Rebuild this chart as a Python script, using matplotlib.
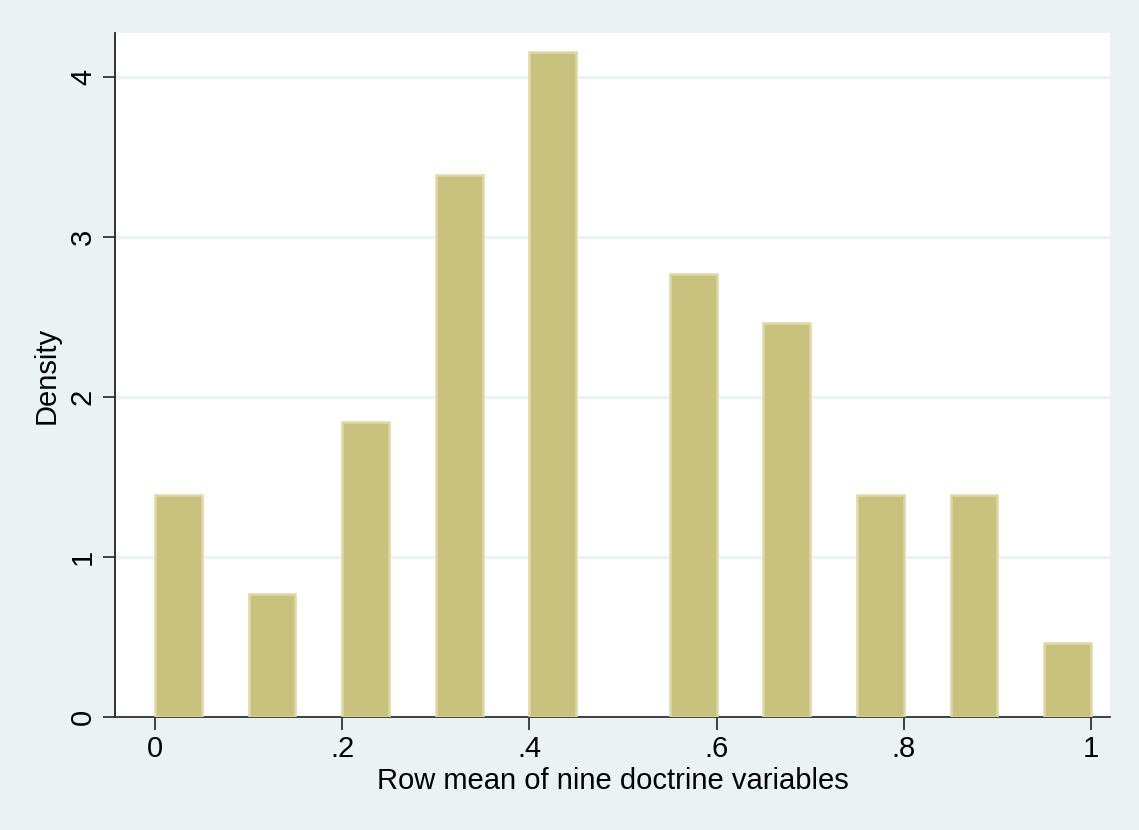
import matplotlib.pyplot as plt
import numpy as np

plt.rcParams['font.family'] = ['Liberation Sans', 'DejaVu Sans']

# histogram: bin width 0.05, left edges of non-empty bins
bin_left = [0.0, 0.1, 0.2, 0.3, 0.4, 0.55, 0.65, 0.75, 0.85, 0.95]
counts = [9, 5, 12, 22, 27, 18, 16, 9, 9, 3]
width = 0.05
n = sum(counts)
density = [c / (n * width) for c in counts]

xticks = [0, 0.2, 0.4, 0.6, 0.8, 1]
xticklabels = ['0', '.2', '.4', '.6', '.8', '1']
yticks = [0, 1, 2, 3, 4]

bg = '#eaf2f3'
fig = plt.figure(figsize=(11.39, 8.30), dpi=100, facecolor=bg)
ax = fig.add_axes([0.101, 0.1361, 0.8735, 0.8241])
ax.set_facecolor('white')

ax.bar(bin_left, density, width=width, align='edge', color='#c9c17e',
       edgecolor='#ddd8a6', linewidth=1.8, zorder=3)

ax.set_xlim(-0.0427, 1.0203)
ax.set_ylim(0, 4.275)
ax.set_xticks(xticks)
ax.set_xticklabels(xticklabels)
ax.set_yticks(yticks)
ax.set_yticklabels([str(t) for t in yticks], rotation=90, va='center')
ax.tick_params(axis='both', labelsize=21, length=9, width=1.2, color='#222222', pad=4)

ax.yaxis.grid(True, color=bg, linewidth=2.5, zorder=0)
ax.set_axisbelow(True)
for s in ['top', 'right']:
    ax.spines[s].set_visible(False)
ax.spines['left'].set_color('#222222')
ax.spines['bottom'].set_color('#333333')
ax.spines['left'].set_linewidth(1.3)
ax.spines['bottom'].set_linewidth(1.3)

ax.set_xlabel('Row mean of nine doctrine variables', fontsize=21, labelpad=3)
ax.set_ylabel('Density', fontsize=21, labelpad=6)

fig.savefig('out.png', dpi=100, facecolor=bg)
